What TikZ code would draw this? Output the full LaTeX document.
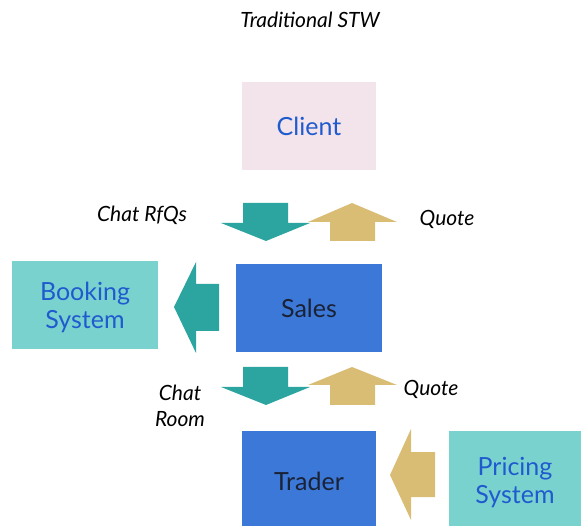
\documentclass[tikz,border=0pt]{standalone}
\usepackage{fontspec}
\setmainfont{Lato}
\definecolor{teal1}{HTML}{2CA5A0}
\definecolor{tan1}{HTML}{D9BD74}
\definecolor{boxteal}{HTML}{7AD2CE}
\definecolor{boxblue}{HTML}{3C78D8}
\definecolor{pink1}{HTML}{F2E4EA}
\definecolor{txtblue}{HTML}{1F5BCF}
\definecolor{txtdark}{HTML}{1A2236}
\begin{document}
\begin{tikzpicture}[x=1pt,y=-1pt,
  box/.style={inner sep=0pt, align=center, font=\fontsize{25}{28}\selectfont},
  lbl/.style={inner sep=0pt, align=center, font=\fontsize{21}{26}\selectfont\itshape, text=black},
  tealarr/.style={fill=teal1, draw=none},
  tanarr/.style={fill=tan1, draw=none}]
\useasboundingbox (0,0) rectangle (581,526);
% title
\node[lbl] (title) at (310,20) {Traditional STW};
% boxes
\fill[pink1] (242,82) rectangle (376,170);
\node[box, text=txtblue] (client) at (309,126) {Client};
\fill[boxteal] (12,261) rectangle (158,349);
\node[box, text=txtblue] (booking) at (85,307) {Booking\\System};
\fill[boxblue] (236,264) rectangle (382,352);
\node[box, text=txtdark] (sales) at (309,308) {Sales};
\fill[boxblue] (242,431) rectangle (376,526);
\node[box, text=txtdark] (trader) at (309,481) {Trader};
\fill[boxteal] (449,431) rectangle (581,526);
\node[box, text=txtblue] (pricing) at (515,483) {Pricing\\System};
% arrows row 1
\fill[tealarr] (243,203) -- (288,203) -- (288,223) -- (310,223) -- (266,241) -- (221,223) -- (243,223) -- cycle;
\fill[tanarr] (330,241) -- (375,241) -- (375,222) -- (397,222) -- (352,203) -- (308,222) -- (330,222) -- cycle;
\node[lbl] (chatrfq) at (142,215) {Chat RfQs};
\node[lbl] (quote1) at (447,219) {Quote};
% left arrow to booking
\fill[tealarr] (219,284) -- (196,284) -- (196,262) -- (174,307) -- (196,353) -- (196,331) -- (219,331) -- cycle;
% arrows row 2
\fill[tealarr] (243,367) -- (288,367) -- (288,387) -- (310,387) -- (266,405) -- (221,387) -- (243,387) -- cycle;
\fill[tanarr] (330,405) -- (375,405) -- (375,385) -- (397,385) -- (352,367) -- (308,385) -- (330,385) -- cycle;
\node[lbl] (chatroom) at (180,406) {Chat\\Room};
\node[lbl] (quote2) at (431,389) {Quote};
% left arrow to trader
\fill[tanarr] (435,452) -- (411,452) -- (411,429) -- (390,475) -- (411,520) -- (411,497) -- (435,497) -- cycle;
\end{tikzpicture}
\end{document}
